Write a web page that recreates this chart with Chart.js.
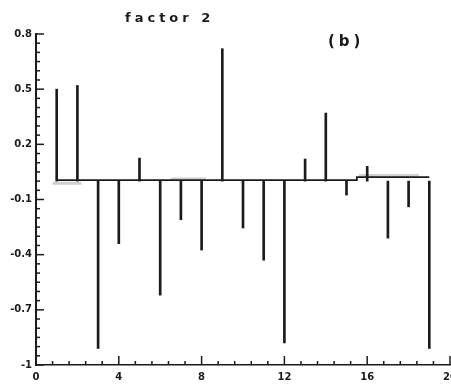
<!DOCTYPE html>
<html>
<head>
<meta charset="utf-8">
<script src="https://cdn.jsdelivr.net/npm/chart.js@4.4.1/dist/chart.umd.min.js"></script>
<style>
  html, body { margin: 0; padding: 0; background: #fff; }
  #wrap { width: 451px; height: 385px; position: relative; }
</style>
</head>
<body>
<div id="wrap"><canvas id="c" width="451" height="385"></canvas></div>
<script>
// ---- data ----
const categories = [1, 2, 3, 4, 5, 6, 7, 8, 9, 10, 11, 12, 13, 14, 15, 16, 17, 18, 19];
const factor2 = [0.50, 0.52, -0.91, -0.34, 0.125, -0.62, -0.21, -0.375, 0.72, -0.255, -0.43, -0.88, 0.12, 0.37, -0.076, 0.08, -0.31, -0.14, -0.91];
const baseX = [1, 15.5, 15.5, 19];
const baseY = [0.005, 0.005, 0.022, 0.022];
const shadeX = [0.8, 2.2, null, 6.5, 8.2, null, 15.6, 18.5];
const shadeY = [-0.012, -0.012, null, 0.012, 0.012, null, 0.03, 0.03];
const yTickValues = [-1, -0.7, -0.4, -0.1, 0.2, 0.5, 0.8];
const xTickValues = [0, 4, 8, 12, 16, 20];
const titleText = 'factor 2';
const panelText = '(b)';

const stems = categories.map((c, i) => ({ x: c, y: factor2[i] }));
const baseline = baseX.map((x, i) => ({ x: x, y: baseY[i] }));
const shade = shadeX.map((x, i) => (x === null ? { x: null, y: null } : { x: x, y: shadeY[i] }));

const ink = '#1b1b1b';

const tickPlugin = {
  id: 'inwardTicks',
  afterDraw(chart) {
    const ctx = chart.ctx;
    const xs = chart.scales.x, ys = chart.scales.y;
    const area = chart.chartArea;
    ctx.save();
    ctx.strokeStyle = ink;
    ctx.lineWidth = 1.5;
    // y ticks (minor every 0.05, major at labelled ticks)
    for (let k = 0; k <= 36; k++) {
      const v = -1 + k * 0.05;
      const major = yTickValues.some(t => Math.abs(t - v) < 1e-6);
      const py = ys.getPixelForValue(v);
      ctx.beginPath();
      ctx.moveTo(area.left, py);
      ctx.lineTo(area.left + (major ? 8 : 4), py);
      ctx.stroke();
    }
    // x ticks (minor every 0.8, major every 4)
    for (let k = 0; k <= 25; k++) {
      const v = k * 0.8;
      const major = xTickValues.some(t => Math.abs(t - v) < 1e-6);
      const px = xs.getPixelForValue(v);
      ctx.beginPath();
      ctx.moveTo(px, area.bottom);
      ctx.lineTo(px, area.bottom - (major ? 9 : 4));
      ctx.stroke();
    }
    // titles
    ctx.fillStyle = ink;
    ctx.textBaseline = 'alphabetic';
    ctx.textAlign = 'left';
    ctx.font = 'bold 13px "DejaVu Sans"';
    ctx.letterSpacing = '4px';
    ctx.fillText(titleText, 125, 22);
    ctx.font = 'bold 15px "DejaVu Sans"';
    ctx.letterSpacing = '4px';
    ctx.fillText(panelText, 328, 46);
    ctx.restore();
  }
};

new Chart(document.getElementById('c'), {
  type: 'bar',
  data: {
    datasets: [
      {
        type: 'line',
        data: shade,
        borderColor: 'rgba(175,175,175,0.6)',
        borderWidth: 3,
        pointRadius: 0,
        spanGaps: false,
        order: 3
      },
      {
        type: 'line',
        data: baseline,
        borderColor: ink,
        borderWidth: 1.8,
        pointRadius: 0,
        order: 2
      },
      {
        type: 'bar',
        data: stems,
        backgroundColor: ink,
        borderWidth: 0,
        barThickness: 2,
        base: 0,
        order: 1
      }
    ]
  },
  options: {
    responsive: false,
    animation: false,
    events: [],
    layout: { padding: { top: 34, right: 1, left: 0, bottom: 0 } },
    plugins: {
      legend: { display: false },
      tooltip: { enabled: false },
      title: { display: false }
    },
    scales: {
      x: {
        type: 'linear',
        min: 0,
        max: 20,
        offset: false,
        grid: { display: false, drawTicks: false, offset: false },
        border: { display: true, color: ink, width: 1.6 },
        afterBuildTicks: s => { s.ticks = xTickValues.map(v => ({ value: v })); },
        afterFit: s => { s.height = 20; s.paddingLeft = 0; s.paddingRight = 0; },
        ticks: {
          padding: 6,
          color: ink,
          font: { family: 'DejaVu Sans', size: 10, weight: 'bold' },
          callback: v => String(v)
        }
      },
      y: {
        min: -1,
        max: 0.8,
        grid: { display: false, drawTicks: false },
        border: { display: true, color: ink, width: 2 },
        afterBuildTicks: s => { s.ticks = yTickValues.map(v => ({ value: v })); },
        afterFit: s => { s.width = 36; s.paddingTop = 0; s.paddingBottom = 0; },
        ticks: {
          padding: 4,
          color: ink,
          font: { family: 'DejaVu Sans', size: 10, weight: 'bold' },
          callback: v => (Math.abs(v + 1) < 1e-9 ? '-1' : (Math.round(v * 10) / 10).toFixed(1))
        }
      }
    }
  },
  plugins: [tickPlugin]
});
</script>
</body>
</html>
